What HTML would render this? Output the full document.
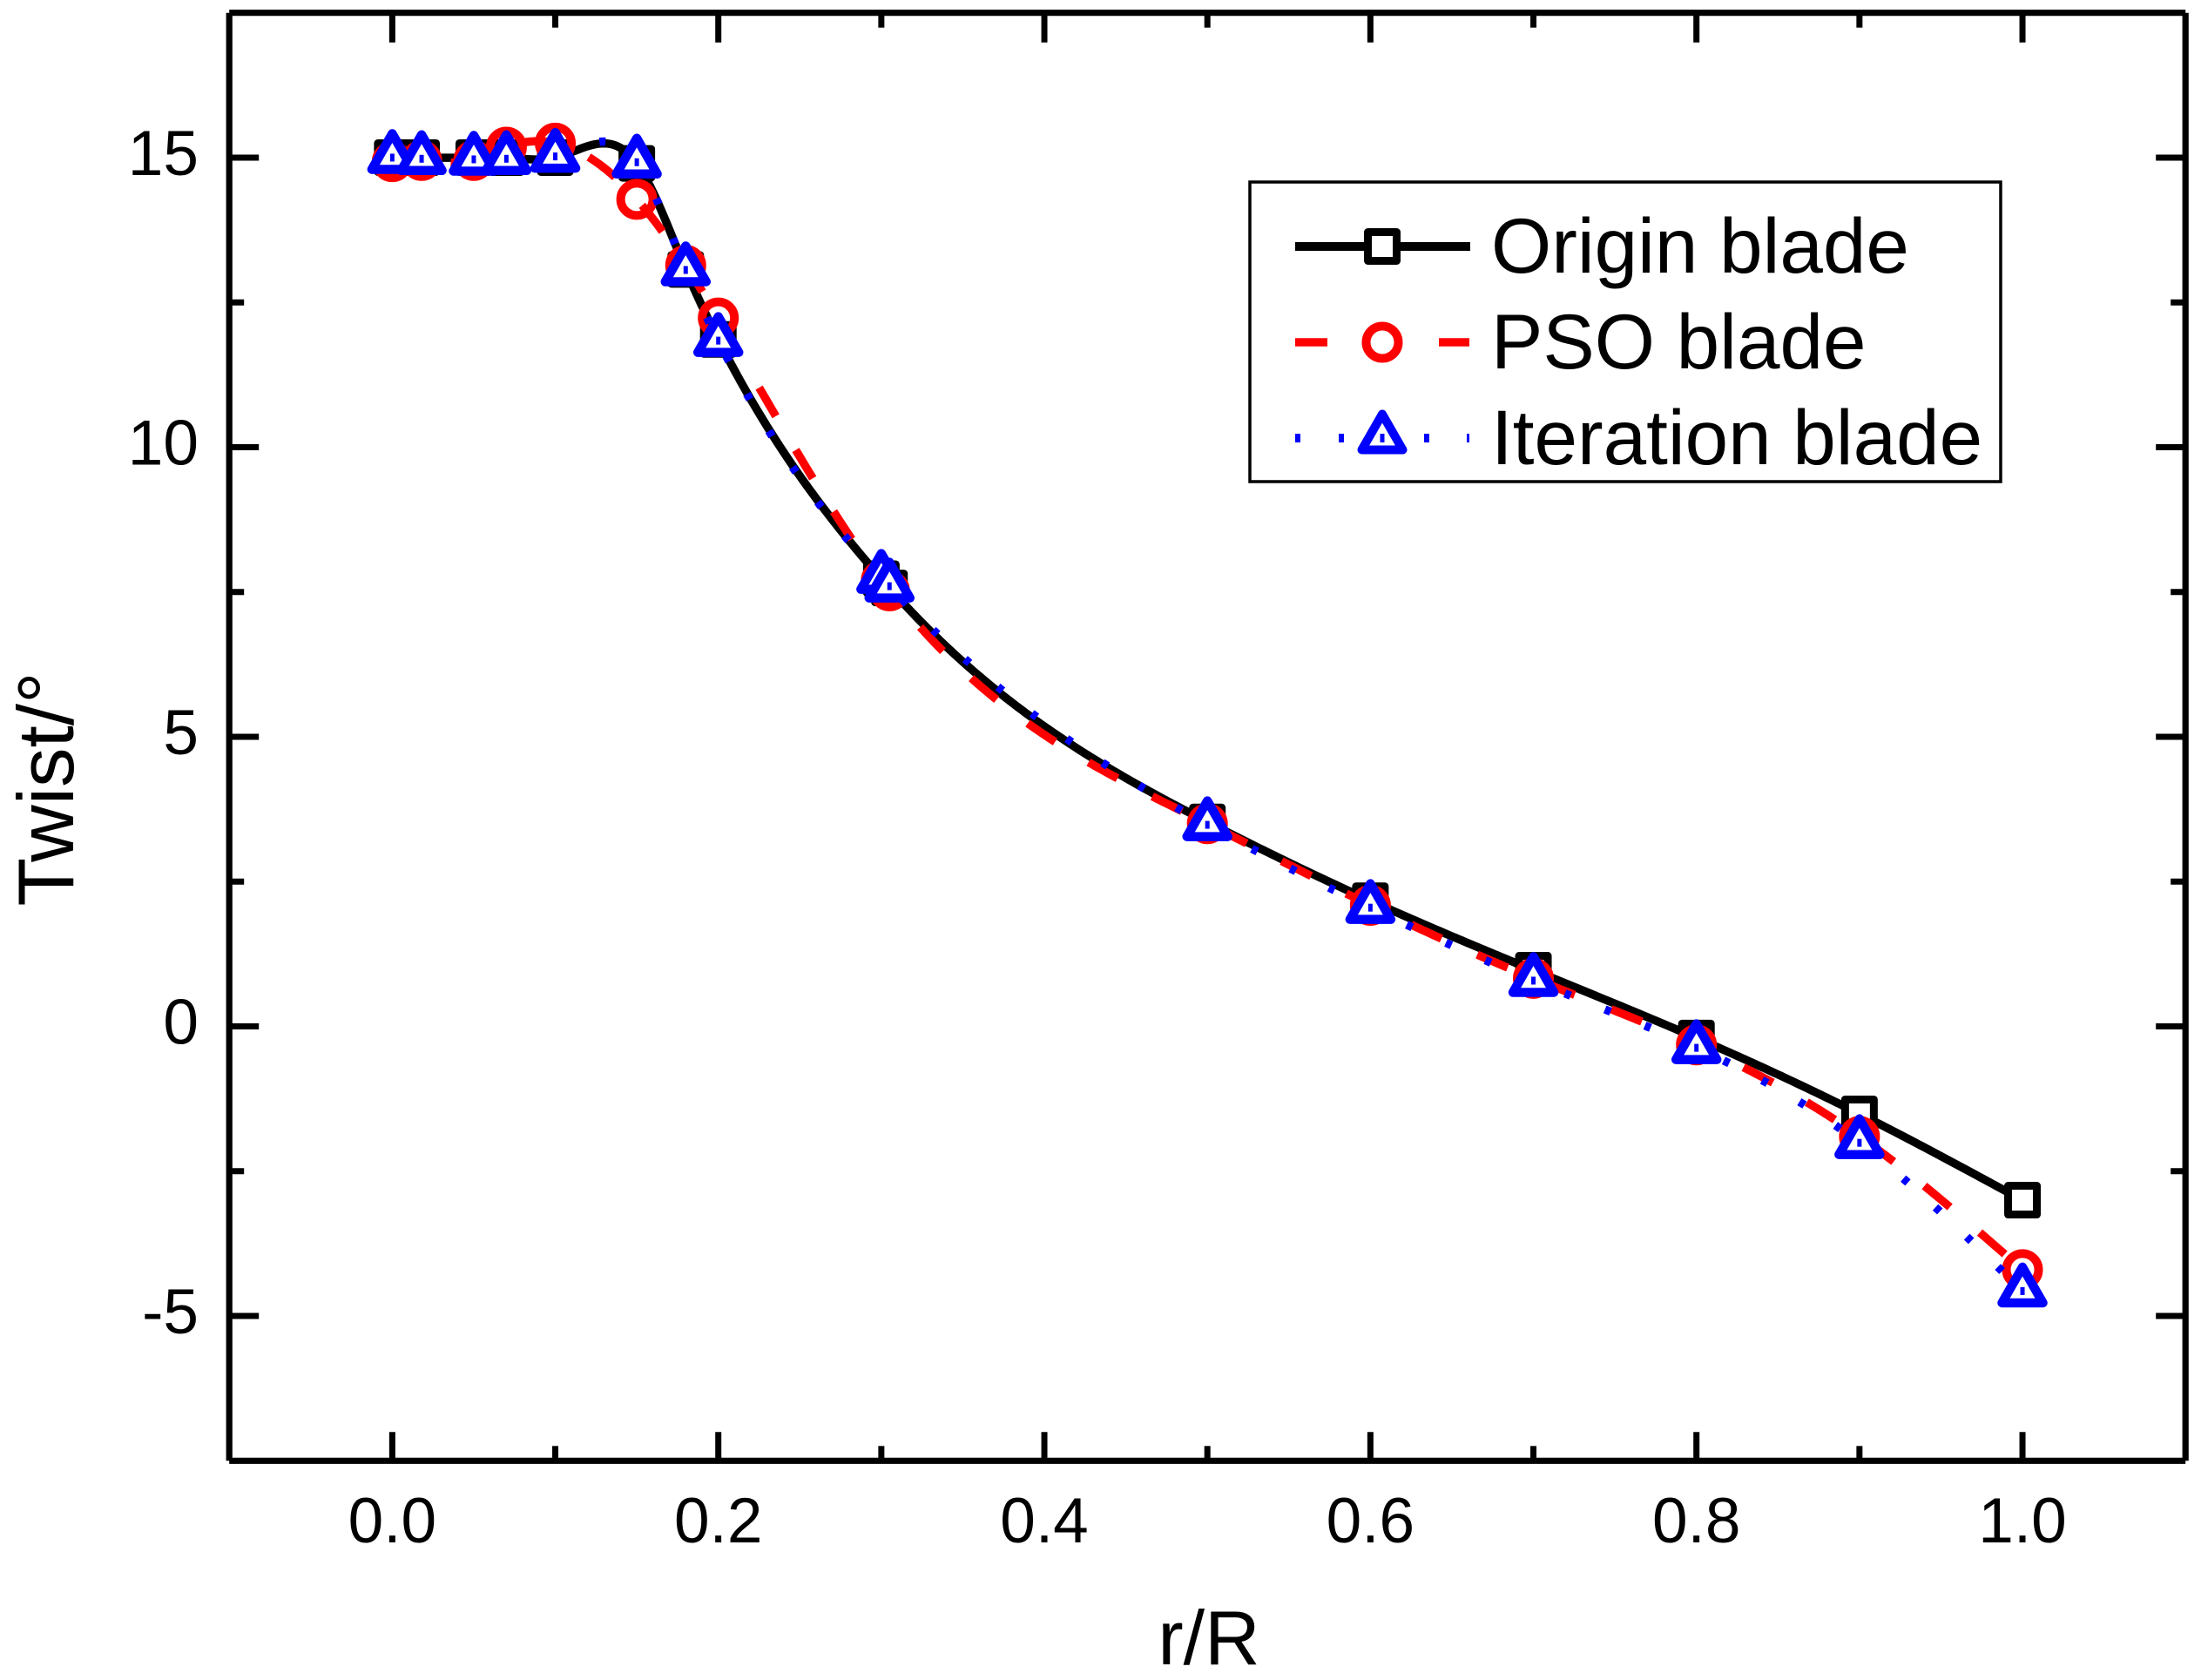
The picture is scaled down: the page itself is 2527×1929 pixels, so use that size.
<!DOCTYPE html>
<html lang="en">
<head>
<meta charset="utf-8">
<title>Twist distribution along r/R</title>
<style>
html,body{margin:0;padding:0;background:#fff;}
svg{display:block;}
text{font-family:"Liberation Sans",Arial,sans-serif;fill:#000;}
</style>
</head>
<body>
<svg id="chart" xmlns="http://www.w3.org/2000/svg" width="2527" height="1929" viewBox="0 0 2527 1929">
  <rect x="0" y="0" width="2527" height="1929" fill="#fff"/>
  <g id="ticks"></g>
  <g id="series"></g>
  <g id="frame"></g>
  <g id="labels" font-size="73"></g>
  <text x="1388" y="1911" font-size="88" text-anchor="middle">r/R</text>
  <text transform="translate(84,906) rotate(-90)" font-size="91" text-anchor="middle">Twist/°</text>
  <g>
    <rect x="1435" y="209" width="862" height="344" fill="#fff" stroke="#000" stroke-width="3.5"/>
    <g>
      <line x1="1487" y1="283" x2="1688" y2="283" stroke="#000" stroke-width="10"/>
      <rect x="1570.5" y="266.5" width="33" height="33" fill="#fff" stroke="#000" stroke-width="9" stroke-linejoin="round"/>
      <text x="1712" y="313" font-size="89">Origin blade</text>
    </g>
    <g>
      <line x1="1487" y1="393" x2="1524" y2="393" stroke="#f00" stroke-width="9.5"/>
      <line x1="1652" y1="393" x2="1687" y2="393" stroke="#f00" stroke-width="9.5"/>
      <circle cx="1587" cy="393" r="18.5" fill="none" stroke="#f00" stroke-width="10"/>
      <text x="1712" y="423" font-size="89">PSO blade</text>
    </g>
    <g>
      <rect x="1487" y="498" width="6" height="10" fill="#00f"/>
      <rect x="1537" y="498" width="6" height="10" fill="#00f"/>
      <rect x="1635" y="498" width="6" height="10" fill="#00f"/>
      <rect x="1684" y="498" width="3" height="10" fill="#00f"/>
      <path d="M1587 475.5 L1610.5 516.5 L1563.5 516.5 Z" fill="#fff" stroke="#00f" stroke-width="10" stroke-linejoin="round"/>
      <rect x="1584.5" y="498" width="5" height="10" fill="#00f"/>
      <text x="1712" y="533" font-size="89">Iteration blade</text>
    </g>
  </g>
</svg>
<script>
var radius = [0, 0.018, 0.05, 0.07, 0.1, 0.15, 0.18, 0.2, 0.3, 0.305, 0.5, 0.6, 0.7, 0.8, 0.9, 1.0];
var originTwist = [15.0, 15.0, 15.0, 15.0, 15.0, 14.9, 13.07, 11.86, 7.73, 7.57, 3.53, 2.17, 0.97, -0.2, -1.51, -3.0];
var psoTwist = [14.93, 14.95, 14.95, 15.18, 15.25, 14.28, 13.14, 12.23, 7.7, 7.52, 3.5, 2.09, 0.83, -0.32, -1.9, -4.2];
var iterationTwist = [15.0, 14.98, 14.97, 14.98, 15.02, 14.92, 13.06, 11.84, 7.75, 7.6, 3.48, 2.05, 0.79, -0.37, -2.01, -4.57];
var xMajorTicks = [0, 0.2, 0.4, 0.6, 0.8, 1.0];
var xMinorTicks = [0.1, 0.3, 0.5, 0.7, 0.9];
var yMajorTicks = [-5, 0, 5, 10, 15];
var yMinorTicks = [-2.5, 2.5, 7.5, 12.5];
var xTickLabels = ["0.0", "0.2", "0.4", "0.6", "0.8", "1.0"];
var yTickLabels = ["-5", "0", "5", "10", "15"];

var NS = "http://www.w3.org/2000/svg";
var plotLeft = 263.2, plotRight = 2509.2, plotTop = 14.7, plotBottom = 1677.3;
var xMin = -0.1, xMax = 1.1, yMin = -7.5, yMax = 17.5;
function xScale(v) { return plotLeft + (v - xMin) / (xMax - xMin) * (plotRight - plotLeft); }
function yScale(v) { return plotBottom - (v - yMin) / (yMax - yMin) * (plotBottom - plotTop); }

function make(tag, parent) {
  var el = document.createElementNS(NS, tag);
  parent.appendChild(el);
  return el;
}

function naturalSpline(xs, ys) {
  var n = xs.length, a = [], b = [], c = [], d = [], i;
  for (i = 0; i < n; i++) { a[i] = 0; b[i] = 1; c[i] = 0; d[i] = 0; }
  for (i = 1; i < n - 1; i++) {
    var h0 = xs[i] - xs[i - 1], h1 = xs[i + 1] - xs[i];
    a[i] = h0; b[i] = 2 * (h0 + h1); c[i] = h1;
    d[i] = 6 * ((ys[i + 1] - ys[i]) / h1 - (ys[i] - ys[i - 1]) / h0);
  }
  for (i = 1; i < n; i++) {
    var m = a[i] / b[i - 1];
    b[i] -= m * c[i - 1];
    d[i] -= m * d[i - 1];
  }
  var s = [];
  s[n - 1] = d[n - 1] / b[n - 1];
  for (i = n - 2; i >= 0; i--) { s[i] = (d[i] - c[i] * s[i + 1]) / b[i]; }
  return function (x) {
    var k = 0;
    while (k < n - 2 && x > xs[k + 1]) { k++; }
    var h = xs[k + 1] - xs[k], A = (xs[k + 1] - x) / h, B = (x - xs[k]) / h;
    return A * ys[k] + B * ys[k + 1] + ((A * A * A - A) * s[k] + (B * B * B - B) * s[k + 1]) * h * h / 6;
  };
}

function curveInfo(ys, anchorIndex) {
  var f = naturalSpline(radius, ys), d = "", len = 0, anchorLen = 0, px = 0, py = 0, started = false;
  for (var i = 0; i < radius.length - 1; i++) {
    if (i === anchorIndex) { anchorLen = len; }
    var steps = Math.max(2, Math.ceil((radius[i + 1] - radius[i]) / 0.002));
    for (var j = (i === 0 ? 0 : 1); j <= steps; j++) {
      var r = radius[i] + (radius[i + 1] - radius[i]) * j / steps;
      var X = xScale(r), Y = yScale(f(r));
      d += (started ? "L" : "M") + X.toFixed(2) + " " + Y.toFixed(2);
      if (started) { len += Math.hypot(X - px, Y - py); }
      px = X; py = Y; started = true;
    }
  }
  return { d: d, anchorLen: anchorLen };
}

var tickGroup = document.getElementById("ticks");
var labelGroup = document.getElementById("labels");
var frameGroup = document.getElementById("frame");
var seriesGroup = document.getElementById("series");

function tickLine(x1, y1, x2, y2, name) {
  var t = make("line", tickGroup);
  t.setAttribute("x1", x1); t.setAttribute("y1", y1);
  t.setAttribute("x2", x2); t.setAttribute("y2", y2);
  t.setAttribute("stroke", "#000");
  t.setAttribute("stroke-width", "7");
  
  
}

xMajorTicks.forEach(function (v, i) {
  var X = xScale(v);
  tickLine(X, plotBottom, X, plotBottom - 33, "x-major-tick");
  tickLine(X, plotTop, X, plotTop + 34, "x-top-major-tick");
  var t = make("text", labelGroup);
  t.setAttribute("x", X);
  t.setAttribute("y", 1771);
  t.setAttribute("text-anchor", "middle");
  t.textContent = xTickLabels[i];
  
  
});
xMinorTicks.forEach(function (v) {
  var X = xScale(v);
  tickLine(X, plotBottom, X, plotBottom - 17, "x-minor-tick");
  tickLine(X, plotTop, X, plotTop + 17, "x-top-minor-tick");
});
yMajorTicks.forEach(function (v, i) {
  var Y = yScale(v);
  tickLine(plotLeft, Y, plotLeft + 34, Y, "y-major-tick");
  tickLine(plotRight, Y, plotRight - 34, Y, "y-right-major-tick");
  var t = make("text", labelGroup);
  t.setAttribute("x", 228);
  t.setAttribute("y", Y + 20);
  t.setAttribute("text-anchor", "end");
  t.textContent = yTickLabels[i];
  
  
});
yMinorTicks.forEach(function (v) {
  var Y = yScale(v);
  tickLine(plotLeft, Y, plotLeft + 17, Y, "y-minor-tick");
  tickLine(plotRight, Y, plotRight - 17, Y, "y-right-minor-tick");
});

function spine(x1, y1, x2, y2, name) {
  var s = make("line", frameGroup);
  s.setAttribute("x1", x1); s.setAttribute("y1", y1);
  s.setAttribute("x2", x2); s.setAttribute("y2", y2);
  s.setAttribute("stroke", "#000");
  s.setAttribute("stroke-width", "7.2");
  
  
}
spine(plotLeft, plotTop, plotLeft, plotBottom, "left-spine");
spine(plotRight, plotTop, plotRight, plotBottom, "right-spine");
spine(plotLeft, plotTop, plotRight, plotTop, "top-spine");
spine(plotLeft, plotBottom, plotRight, plotBottom, "bottom-spine");

// Origin blade: solid line with hollow squares
var originGroup = make("g", seriesGroup);


var originLine = make("path", originGroup);
originLine.setAttribute("d", curveInfo(originTwist, 0).d);
originLine.setAttribute("fill", "none");
originLine.setAttribute("stroke", "#000");
originLine.setAttribute("stroke-width", "9.5");


originTwist.forEach(function (v, i) {
  var m = make("rect", originGroup);
  m.setAttribute("x", xScale(radius[i]) - 16.5);
  m.setAttribute("y", yScale(v) - 16.5);
  m.setAttribute("width", 33);
  m.setAttribute("height", 33);
  m.setAttribute("fill", "#fff");
  m.setAttribute("stroke", "#000");
  m.setAttribute("stroke-width", "9");
  m.setAttribute("stroke-linejoin", "round");
  
  
});

// PSO blade: dashed line with open circles
var psoGroup = make("g", seriesGroup);


var psoInfo = curveInfo(psoTwist, 12);
var psoLine = make("path", psoGroup);
psoLine.setAttribute("d", psoInfo.d);
psoLine.setAttribute("fill", "none");
psoLine.setAttribute("stroke", "#f00");
psoLine.setAttribute("stroke-width", "9.5");
psoLine.setAttribute("stroke-dasharray", "38 45");
psoLine.setAttribute("stroke-dashoffset", String(83 - ((psoInfo.anchorLen + 13) % 83)));


psoTwist.forEach(function (v, i) {
  var m = make("circle", psoGroup);
  m.setAttribute("cx", xScale(radius[i]));
  m.setAttribute("cy", yScale(v));
  m.setAttribute("r", 18.5);
  m.setAttribute("fill", "none");
  m.setAttribute("stroke", "#f00");
  m.setAttribute("stroke-width", "10");
  
  
});

// Iteration blade: dotted line with triangles and centre dot
var iterGroup = make("g", seriesGroup);


var iterInfo = curveInfo(iterationTwist, 12);
var iterLine = make("path", iterGroup);
iterLine.setAttribute("d", iterInfo.d);
iterLine.setAttribute("fill", "none");
iterLine.setAttribute("stroke", "#00f");
iterLine.setAttribute("stroke-width", "9.5");
iterLine.setAttribute("stroke-dasharray", "7 42.5");
iterLine.setAttribute("stroke-dashoffset", String(49.5 - ((iterInfo.anchorLen + 39) % 49.5)));


iterationTwist.forEach(function (v, i) {
  var X = xScale(radius[i]), Y = yScale(v);
  var m = make("path", iterGroup);
  m.setAttribute("d", "M" + X + " " + (Y - 27.5) + "L" + (X + 23.5) + " " + (Y + 13.5) + "L" + (X - 23.5) + " " + (Y + 13.5) + "Z");
  m.setAttribute("fill", "#fff");
  m.setAttribute("stroke", "#00f");
  m.setAttribute("stroke-width", "10.5");
  m.setAttribute("stroke-linejoin", "round");
  
  
  var c = make("rect", iterGroup);
  c.setAttribute("x", X - 2.5);
  c.setAttribute("y", Y - 4.5);
  c.setAttribute("width", 5);
  c.setAttribute("height", 9);
  c.setAttribute("fill", "#00f");
  
  
});
</script>
</body>
</html>
